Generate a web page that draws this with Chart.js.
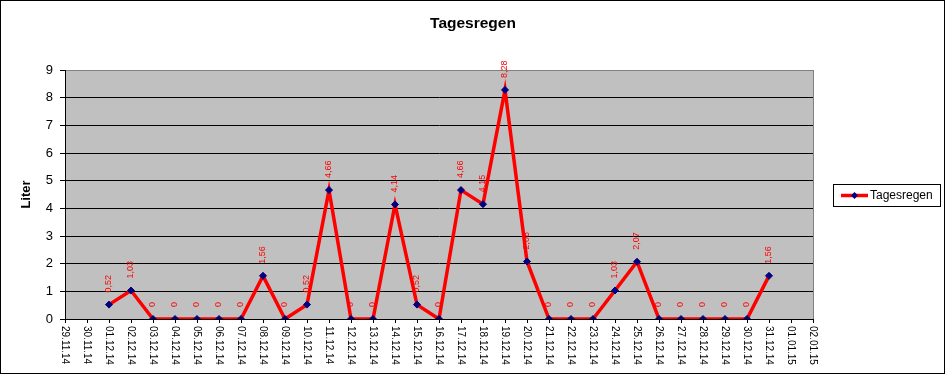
<!DOCTYPE html>
<html>
<head>
<meta charset="utf-8">
<script src="https://cdn.jsdelivr.net/npm/chart.js@4/dist/chart.umd.min.js"></script>
<style>
  html, body { margin: 0; padding: 0; background: #fff; }
  #wrap { width: 946px; height: 375px; }
</style>
</head>
<body>
<div id="wrap"><canvas id="c" width="946" height="375"></canvas></div>
<script>
const categories = ["29.11.14","30.11.14","01.12.14","02.12.14","03.12.14","04.12.14","05.12.14","06.12.14","07.12.14","08.12.14","09.12.14","10.12.14","11.12.14","12.12.14","13.12.14","14.12.14","15.12.14","16.12.14","17.12.14","18.12.14","19.12.14","20.12.14","21.12.14","22.12.14","23.12.14","24.12.14","25.12.14","26.12.14","27.12.14","28.12.14","29.12.14","30.12.14","31.12.14","01.01.15","02.01.15"];
const tagesregen = [null,null,0.52,1.03,0,0,0,0,0,1.56,0,0.52,4.66,0,0,4.14,0.52,0,4.66,4.15,8.28,2.08,0,0,0,1.03,2.07,0,0,0,0,0,1.56,null,null];
const yTicks = [0,1,2,3,4,5,6,7,8,9];
const seriesName = "Tagesregen";
const chartTitle = "Tagesregen";
const yTitle = "Liter";

const FONT = "'Liberation Sans', Arial, Helvetica, sans-serif";

const decor = {
  id: 'decor',
  beforeDraw(chart) {
    const {ctx, chartArea: a} = chart;
    ctx.save();
    ctx.fillStyle = '#fff';
    ctx.fillRect(0, 0, chart.width, chart.height);
    ctx.fillStyle = '#c0c0c0';
    ctx.fillRect(a.left, a.top, a.right - a.left, a.bottom - a.top);
    ctx.strokeStyle = '#808080';
    ctx.lineWidth = 1;
    ctx.strokeRect(Math.round(a.left) + 0.5, Math.round(a.top) + 0.5, Math.round(a.right - a.left), Math.round(a.bottom - a.top));
    ctx.restore();
  },
  afterDatasetsDraw(chart) {
    const {ctx} = chart;
    const meta = chart.getDatasetMeta(0);
    ctx.save();
    ctx.fillStyle = '#ff0000';
    ctx.font = "9px " + FONT;
    ctx.textAlign = 'left';
    ctx.textBaseline = 'middle';
    meta.data.forEach((pt, i) => {
      const v = tagesregen[i];
      if (v === null || v === undefined) return;
      ctx.save();
      ctx.translate(pt.x, pt.y - 12);
      ctx.rotate(-Math.PI / 2);
      ctx.fillText(String(v).replace('.', ','), 0, 0);
      ctx.restore();
    });
    ctx.restore();
  },
  afterDraw(chart) {
    const {ctx} = chart;
    const xs = chart.scales.x;
    ctx.save();
    // x tick labels rotated clockwise
    ctx.fillStyle = '#000';
    ctx.font = "10px " + FONT;
    ctx.textAlign = 'left';
    ctx.textBaseline = 'middle';
    categories.forEach((lab, i) => {
      const x = xs.getPixelForTick(i);
      ctx.save();
      ctx.translate(x, xs.top + 7);
      ctx.rotate(Math.PI / 2);
      ctx.fillText(lab, 0, 0);
      ctx.restore();
    });
    // legend
    const lx = 833, ly = 184, lw = 107, lh = 22;
    ctx.strokeStyle = '#000';
    ctx.lineWidth = 1;
    ctx.strokeRect(lx + 0.5, ly + 0.5, lw, lh);
    const cy = ly + lh / 2 + 0.5;
    ctx.strokeStyle = '#ff0000';
    ctx.lineWidth = 3.5;
    ctx.beginPath();
    ctx.moveTo(841, cy);
    ctx.lineTo(868, cy);
    ctx.stroke();
    ctx.fillStyle = '#000080';
    ctx.beginPath();
    ctx.moveTo(854.5, cy - 3.5);
    ctx.lineTo(858, cy);
    ctx.lineTo(854.5, cy + 3.5);
    ctx.lineTo(851, cy);
    ctx.closePath();
    ctx.fill();
    ctx.fillStyle = '#000';
    ctx.font = "12px " + FONT;
    ctx.textAlign = 'left';
    ctx.textBaseline = 'middle';
    ctx.fillText(seriesName, 870, cy);
    // outer border
    ctx.strokeStyle = '#000';
    ctx.lineWidth = 1;
    ctx.strokeRect(0.5, 0.5, 944, 373);
    ctx.restore();
  }
};

new Chart(document.getElementById('c'), {
  type: 'line',
  data: {
    labels: categories,
    datasets: [{
      label: seriesName,
      data: tagesregen,
      borderColor: '#ff0000',
      backgroundColor: '#000080',
      borderWidth: 3.5,
      pointStyle: 'rectRot',
      pointRadius: 3.5,
      pointBorderColor: '#000080',
      pointBackgroundColor: '#000080',
      pointBorderWidth: 1,
      tension: 0,
      fill: false,
      spanGaps: false
    }]
  },
  options: {
    responsive: false,
    animation: false,
    devicePixelRatio: 1,
    layout: { padding: 0 },
    plugins: {
      legend: { display: false },
      tooltip: { enabled: false },
      title: {
        display: true,
        text: chartTitle,
        color: '#000',
        font: { family: FONT, size: 15.5, weight: 'bold' },
        padding: { top: 14, bottom: 70 - 14 - 18.6 }
      }
    },
    scales: {
      x: {
        type: 'category',
        offset: false,
        afterFit(s) { s.height = 375 - 319; },
        grid: {
          display: true,
          drawOnChartArea: false,
          drawTicks: true,
          tickLength: 4,
          color: '#000',
          offset: false
        },
        border: { display: true, color: '#000', width: 1 },
        ticks: { display: false, autoSkip: false }
      },
      y: {
        min: 0,
        max: 9,
        afterFit(s) { s.width = 65; },
        afterBuildTicks(s) { s.ticks = yTicks.map(v => ({ value: v })); },
        grid: {
          drawTicks: true,
          tickLength: 5,
          color: (c) => (c.tick && c.tick.value === 9) ? 'rgba(0,0,0,0)' : '#000',
          tickColor: '#000'
        },
        border: { display: true, color: '#000', width: 1 },
        ticks: {
          stepSize: 1,
          padding: 7,
          color: '#000',
          font: { family: FONT, size: 13 }
        },
        title: {
          display: true,
          text: yTitle,
          color: '#000',
          font: { family: FONT, size: 13, weight: 'bold' },
          padding: { top: 19, bottom: 0 }
        }
      },
      legendSpace: {
        type: 'linear',
        position: 'right',
        display: true,
        min: 0,
        max: 9,
        afterFit(s) { s.width = 133; },
        grid: { display: false, drawOnChartArea: false, drawTicks: false },
        border: { display: false },
        ticks: { display: false }
      }
    }
  },
  plugins: [decor]
});
</script>
</body>
</html>
